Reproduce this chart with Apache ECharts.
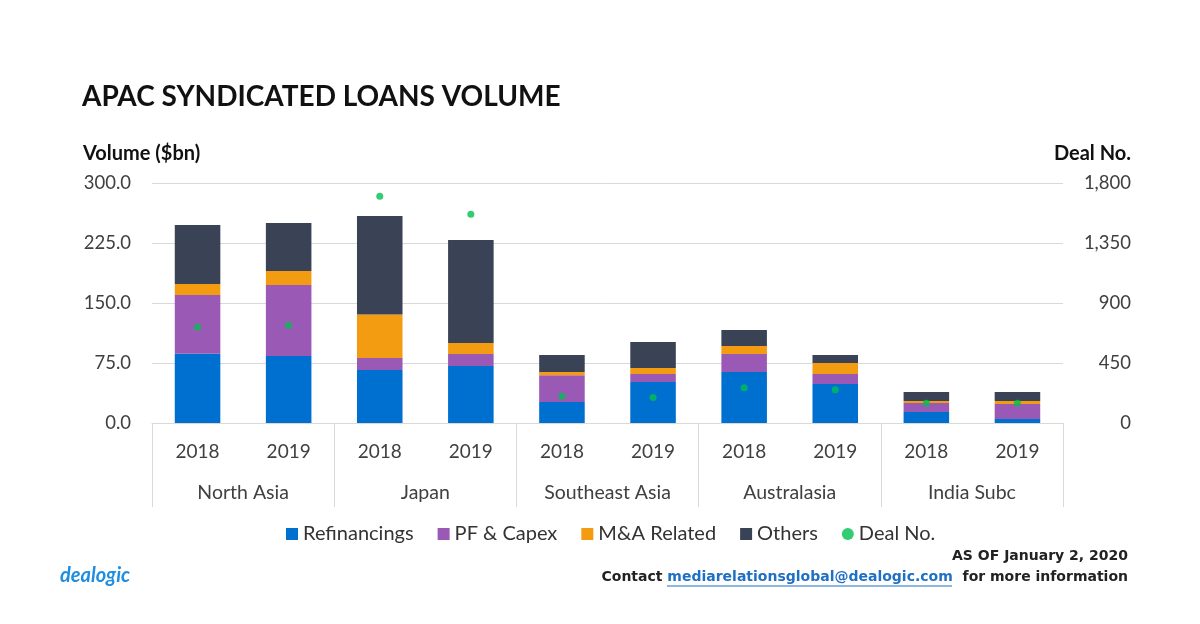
<!DOCTYPE html>
<html>
<head>
<meta charset="utf-8">
<script src="https://cdn.jsdelivr.net/npm/echarts@6/dist/echarts.min.js"></script>
<style>
  html, body { margin: 0; padding: 0; background: #fff; }
  #chart-container { width: 1200px; height: 624px; }
</style>
</head>
<body>
<div id="chart-container"></div>
<script>
var years = ["2018", "2019", "2018", "2019", "2018", "2019", "2018", "2019", "2018", "2019"];
var regions = ["North Asia", "Japan", "Southeast Asia", "Australasia", "India Subc"];
var refinancings = [86.6, 83.8, 66.3, 71.3, 26.3, 51.3, 63.8, 48.8, 13.8, 5.0];
var pfCapex = [73.4, 88.7, 15.0, 15.0, 33.3, 10.0, 22.5, 12.5, 11.2, 18.8];
var maRelated = [13.8, 17.5, 54.2, 13.7, 4.2, 7.5, 10.0, 13.7, 2.5, 3.7];
var others = [73.7, 60.0, 123.3, 128.8, 21.2, 32.5, 20.0, 10.0, 11.3, 11.2];
var dealNo = [718, 733, 1700, 1565, 200, 192, 265, 250, 148, 148];
var volumeTicks = [0, 75, 150, 225, 300];
var dealTicks = [0, 450, 900, 1350, 1800];

var FONT = "Lato";
var FOOT = "DejaVu Sans";
var dom = document.getElementById("chart-container");
var myChart = echarts.init(dom);

function barSeries(name, data, color) {
  return {
    name: name,
    type: "bar",
    stack: "vol",
    barWidth: "50%",
    data: data,
    itemStyle: { color: color }
  };
}

var option = {
  animation: false,
  textStyle: { fontFamily: FONT },
  title: {
    text: "APAC SYNDICATED LOANS VOLUME",
    left: 77,
    top: 78,
    textStyle: { fontFamily: FONT, fontSize: 28, fontWeight: "bold", color: "#111" }
  },
  grid: { left: 152, right: 137, top: 183, bottom: 201 },
  legend: {
    bottom: 75,
    left: 281,
    itemGap: 24,
    itemWidth: 12,
    itemHeight: 12,
    textStyle: { fontFamily: FONT, fontSize: 20, color: "#333" },
    data: [
      { name: "Refinancings", icon: "rect" },
      { name: "PF & Capex", icon: "rect" },
      { name: "M&A Related", icon: "rect" },
      { name: "Others", icon: "rect" },
      { name: "Deal No.", icon: "circle", itemStyle: { borderWidth: 0 } }
    ]
  },
  xAxis: [
    {
      type: "category",
      data: years,
      position: "bottom",
      axisLine: { lineStyle: { color: "#d9d9d9" } },
      axisTick: { show: false },
      axisLabel: { margin: 19, fontFamily: FONT, fontSize: 19, color: "#404040" }
    },
    {
      type: "category",
      data: regions,
      position: "bottom",
      offset: 0,
      axisLine: { show: false },
      axisTick: { show: true, length: 84, lineStyle: { color: "#d9d9d9" } },
      axisLabel: { margin: 60, fontFamily: FONT, fontSize: 19.5, color: "#404040" }
    }
  ],
  yAxis: [
    {
      type: "value",
      min: 0,
      max: 300,
      interval: 75,
      axisLine: { show: false },
      axisTick: { show: false },
      splitLine: { lineStyle: { color: "#d9d9d9" } },
      axisLabel: {
        margin: 21,
        fontFamily: FONT,
        fontSize: 18.5,
        color: "#404040",
        formatter: function (v) { return volumeTicks.indexOf(v) >= 0 ? v.toFixed(1) : ""; }
      }
    },
    {
      type: "value",
      min: 0,
      max: 1800,
      interval: 450,
      axisLine: { show: false },
      axisTick: { show: false },
      splitLine: { show: false },
      axisLabel: {
        margin: 68,
        align: "right",
        fontFamily: FONT,
        fontSize: 18.5,
        color: "#404040",
        formatter: function (v) { return dealTicks.indexOf(v) >= 0 ? v.toLocaleString("en-US") : ""; }
      }
    }
  ],
  series: [
    barSeries("Refinancings", refinancings, "#0070d0"),
    barSeries("PF & Capex", pfCapex, "#9b59b6"),
    barSeries("M&A Related", maRelated, "#f39c12"),
    barSeries("Others", others, "#3a4356"),
    {
      name: "Deal No.",
      type: "scatter",
      yAxisIndex: 1,
      symbolSize: 7,
      data: dealNo,
      itemStyle: { color: "#00bf50" },
      z: 5
    }
  ],
  graphic: [
    {
      type: "text", left: 83, top: 144,
      style: { text: "Volume ($bn)", font: "bold 20px " + FONT, fill: "#111" }
    },
    {
      type: "text", right: 69, top: 144,
      style: { text: "Deal No.", font: "bold 20px " + FONT, fill: "#111", textAlign: "right" }
    },
    {
      type: "text", right: 72, top: 549,
      style: { text: "AS OF January 2, 2020", font: "bold 14px " + FOOT, fill: "#222", textAlign: "right" }
    },
    {
      type: "text", right: 72, top: 570,
      style: {
        text: "Contact {link|mediarelationsglobal@dealogic.com}  for more information",
        font: "bold 14px " + FOOT,
        fill: "#222",
        textAlign: "right",
        rich: { link: { fill: "#1f6fc5", font: "bold 14px " + FOOT } }
      }
    },
    {
      type: "line",
      shape: { x1: 667, y1: 586, x2: 952, y2: 586 },
      style: { stroke: "#1f6fc5", lineWidth: 1 }
    },
    {
      type: "text", left: 60, top: 566,
      style: { text: "dealogic", font: "italic bold 20px " + FONT, fill: "#1e8ee0" }
    }
  ]
};

if (option && typeof option === "object") {
  myChart.setOption(option, true);
}
</script>
</body>
</html>
